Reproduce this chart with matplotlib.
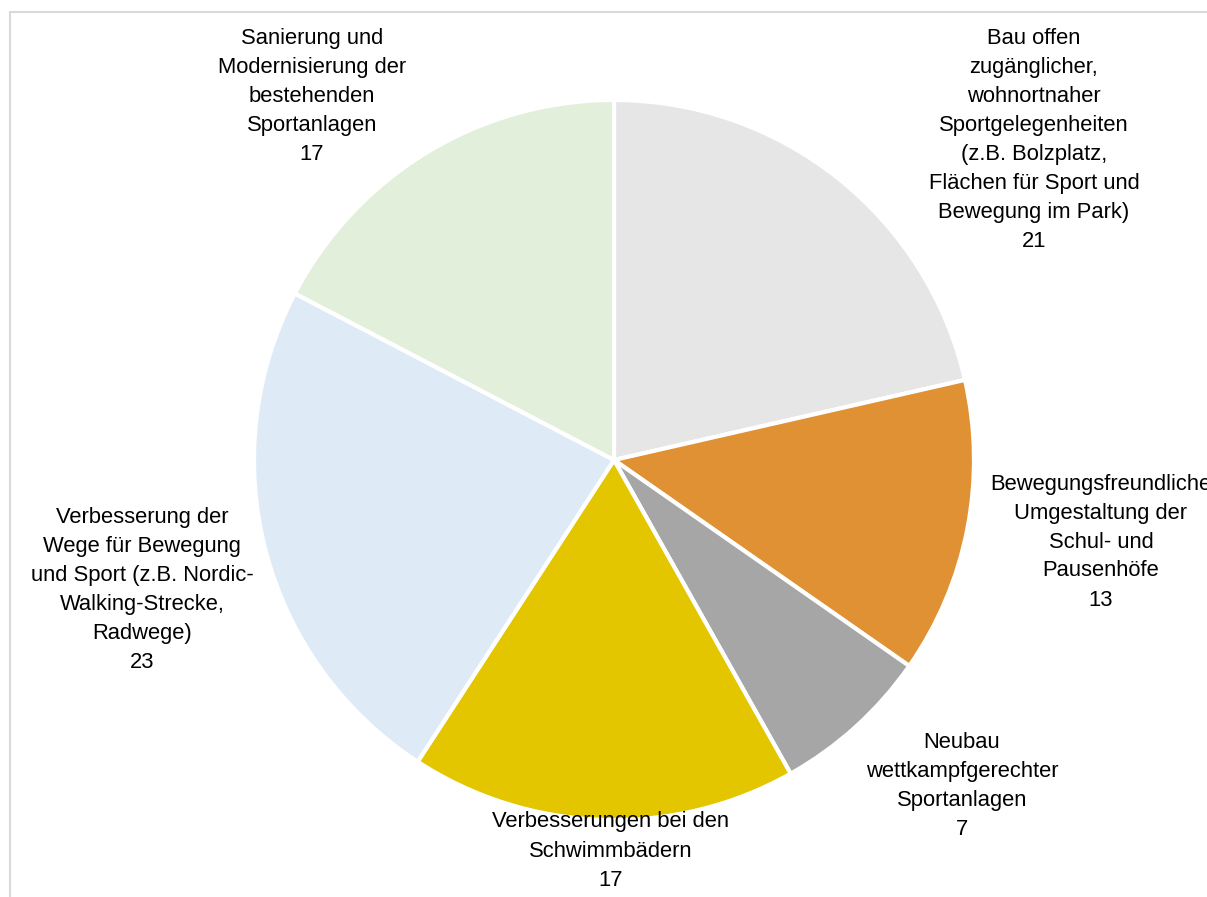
import matplotlib
matplotlib.use("Agg")
import matplotlib.pyplot as plt
from matplotlib.patches import Rectangle

plt.rcParams['font.family'] = ['Liberation Sans', 'DejaVu Sans']

W, H = 1207, 897

labels = [
    "Bau offen\nzugänglicher,\nwohnortnaher\nSportgelegenheiten\n(z.B. Bolzplatz,\nFlächen für Sport und\nBewegung im Park)",
    "Bewegungsfreundliche\nUmgestaltung der\nSchul- und\nPausenhöfe",
    "Neubau\nwettkampfgerechter\nSportanlagen",
    "Verbesserungen bei den\nSchwimmbädern",
    "Verbesserung der\nWege für Bewegung\nund Sport (z.B. Nordic-\nWalking-Strecke,\nRadwege)",
    "Sanierung und\nModernisierung der\nbestehenden\nSportanlagen",
]
values = [21, 13, 7, 17, 23, 17]
colors = ["#e6e6e6", "#e09133", "#a6a6a6", "#e3c500", "#deeaf6", "#e2efda"]

# label anchor points (pixel coordinates, y measured from top)
label_pos = [(1034, 140), (1101, 542), (962, 786), (611, 851), (142, 590), (312, 96)]

fig = plt.figure(figsize=(W / 100, H / 100), dpi=100)
ax = fig.add_axes([0, 0, 1, 1])

cx, cy, r = 614, H - 460, 360
ax.pie(values, colors=colors, startangle=90, counterclock=False,
       center=(cx, cy), radius=r, frame=True,
       wedgeprops=dict(edgecolor='white', linewidth=3))
ax.set_xlim(0, W)
ax.set_ylim(0, H)
ax.set_aspect('equal')
ax.axis('off')

for lab, v, (x, y) in zip(labels, values, label_pos):
    ax.text(x, H - y, f"{lab}\n{v}", ha='center', va='center',
            multialignment='center', fontsize=15.8, linespacing=1.5,
            color='#000000')

fig.patches.append(Rectangle((10 / W, -0.1), 1.2, (H - 12) / H + 0.1,
                             transform=fig.transFigure, fill=False,
                             edgecolor='#d9d9d9', linewidth=1.5, zorder=0))

fig.savefig("out.png", dpi=100)
